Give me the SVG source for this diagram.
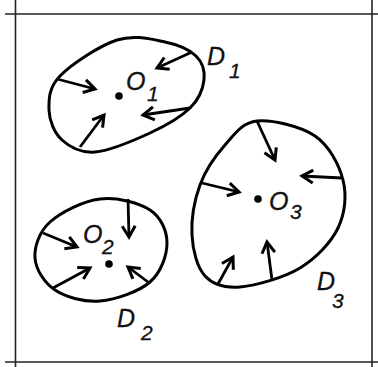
<svg xmlns="http://www.w3.org/2000/svg" width="378" height="367" viewBox="0 0 378 367">
<style>
.frame{stroke:#222;stroke-width:1.6;fill:none}
.dom{fill:none;stroke:#000;stroke-width:3}
.arr{stroke:#000;stroke-width:2.8;fill:none;marker-end:url(#ah)}
.lbl{font-family:"Liberation Sans",Arial,sans-serif;font-style:italic;font-size:25px;fill:#111;stroke:#111;stroke-width:0.3}
.sub{font-size:21px}
</style>
<defs>
<marker id="ah" viewBox="0 0 16 16" refX="13" refY="8" markerWidth="16" markerHeight="16" markerUnits="userSpaceOnUse" orient="auto">
<path d="M2,1.5 L13,8 L2,14.5" fill="none" stroke="#000" stroke-width="3"/>
</marker>
</defs>
<g id="frame">
<line class="frame" x1="15.5" y1="0" x2="15.5" y2="367"/>
<line class="frame" x1="372" y1="0" x2="372" y2="367"/>
<line class="frame" x1="5" y1="14" x2="378" y2="14"/>
<line class="frame" x1="5" y1="362" x2="378" y2="362"/>
</g>
<g id="D1">
<path class="dom" d="M117,40 C134.5,34.3 151.8,39.3 165,42 C178.2,44.7 189.5,49.7 196,56 C202.5,62.3 205,71.3 204,80 C203,88.7 199,99.2 190,108 C181,116.8 165.8,125.7 150,133 C134.2,140.3 109.7,150.8 95,152 C80.3,153.2 69.7,147 62,140 C54.3,133 49.3,120.7 49,110 C48.7,99.3 48.7,87.7 60,76 C71.3,64.3 99.5,45.7 117,40 Z"/>
<circle cx="119" cy="96" r="3.8" fill="#000"/>
<text class="lbl" x="126" y="90">O</text><text class="lbl sub" x="147" y="101">1</text>
<text class="lbl" x="207" y="65">D</text><text class="lbl sub" x="229" y="78">1</text>
</g>
<g id="D2">
<path class="dom" d="M100,199 C116.7,197 138.8,202.7 150,210 C161.2,217.3 167,231 167,243 C167,255 161.2,272.3 150,282 C138.8,291.7 115.8,299.7 100,301 C84.2,302.3 65.8,297.2 55,290 C44.2,282.8 35.8,269.3 35,258 C34.2,246.7 39.2,231.8 50,222 C60.8,212.2 83.3,201 100,199 Z"/>
<circle cx="109" cy="264" r="3.8" fill="#000"/>
<text class="lbl" x="83" y="243">O</text><text class="lbl sub" x="102" y="254">2</text>
<text class="lbl" x="117" y="327">D</text><text class="lbl sub" x="141" y="340">2</text>
</g>
<g id="D3">
<path class="dom" d="M257,121 C272,119.5 300.7,126.2 315,136 C329.3,145.8 339.2,164.7 343,180 C346.8,195.3 345.2,213.3 338,228 C330.8,242.7 316.3,258.2 300,268 C283.7,277.8 255.8,285.7 240,287 C224.2,288.3 213,284.7 205,276 C197,267.3 192.8,250.2 192,235 C191.2,219.8 194.5,200 200,185 C205.5,170 215.5,155.7 225,145 C234.5,134.3 242,122.5 257,121 Z"/>
<circle cx="258" cy="199" r="3.8" fill="#000"/>
<text class="lbl" x="269" y="210">O</text><text class="lbl sub" x="290" y="219">3</text>
<text class="lbl" x="317" y="290">D</text><text class="lbl sub" x="332" y="308">3</text>
</g>
<g id="connectors">
<line class="arr" x1="192" y1="52" x2="157" y2="68"/>
<line class="arr" x1="57" y1="79" x2="95" y2="89"/>
<line class="arr" x1="190" y1="108" x2="143" y2="115"/>
<line class="arr" x1="80" y1="147" x2="104" y2="115"/>
<line class="arr" x1="128" y1="199" x2="129" y2="237"/>
<line class="arr" x1="43" y1="233" x2="77" y2="247"/>
<line class="arr" x1="53" y1="288" x2="90" y2="268"/>
<line class="arr" x1="148" y1="282" x2="128" y2="267"/>
<line class="arr" x1="257" y1="121" x2="275" y2="160"/>
<line class="arr" x1="342" y1="178" x2="302" y2="176"/>
<line class="arr" x1="202" y1="183" x2="239" y2="192"/>
<line class="arr" x1="218" y1="284" x2="233" y2="257"/>
<line class="arr" x1="272" y1="280" x2="267" y2="242"/>
</g>
</svg>
